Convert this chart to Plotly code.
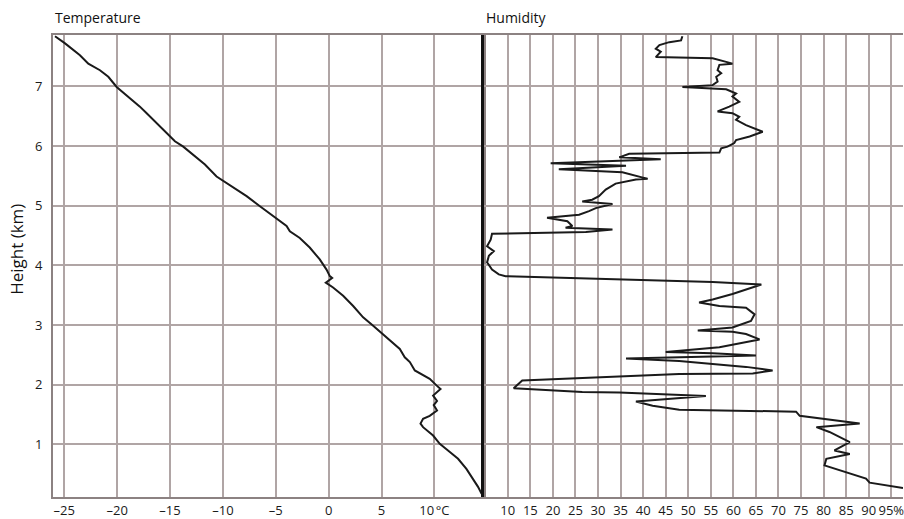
import plotly.graph_objects as go

# Temperature profile (°C vs km)
temp_c = [-25.88, -24.93, -23.52, -22.73, -21.63, -20.84, -20.05, -19.10, -17.85, -17.21,
          -16.27, -15.32, -14.54, -13.75, -12.81, -11.70, -10.60, -9.03, -7.76, -6.50,
          -5.25, -3.98, -3.67, -2.73, -1.79, -0.84, -0.20, 0.11, 0.33, -0.27,
          0.42, 1.37, 2.32, 3.26, 4.21, 5.15, 6.10, 6.73, 7.20, 7.68,
          8.15, 8.78, 9.56, 10.20, 10.58, 9.88, 10.25, 9.94, 10.25, 9.56,
          8.93, 8.69, 8.93, 9.88, 10.51, 11.29, 12.24, 13.03, 13.66, 14.13, 14.45, 14.70]
temp_h = [7.84, 7.72, 7.52, 7.38, 7.27, 7.16, 6.99, 6.85, 6.66, 6.55,
          6.38, 6.22, 6.08, 5.99, 5.85, 5.69, 5.49, 5.30, 5.16, 4.99,
          4.82, 4.66, 4.57, 4.46, 4.30, 4.10, 3.93, 3.82, 3.79, 3.71,
          3.63, 3.49, 3.32, 3.13, 2.99, 2.85, 2.71, 2.60, 2.46, 2.38,
          2.24, 2.18, 2.10, 1.99, 1.93, 1.82, 1.73, 1.66, 1.57, 1.48,
          1.43, 1.35, 1.29, 1.15, 1.01, 0.90, 0.76, 0.59, 0.43, 0.29, 0.18, 0.13]

# Humidity profile (% vs km)
hum_pct = [48.7, 48.4, 45.8, 43.6, 42.8, 43.9, 42.8, 55.4, 58.4, 59.8,
           56.9, 56.5, 57.3, 56.2, 56.5, 55.4, 48.7, 58.4, 60.6, 59.8,
           61.3, 59.1, 56.5, 59.8, 61.3, 60.6, 62.8, 66.5, 63.6, 60.6,
           60.2, 58.7, 57.3, 56.9, 36.9, 34.7, 43.9, 19.5, 36.2, 21.3,
           35.4, 37.6, 41.0, 38.4, 33.9, 31.7, 30.2, 28.7, 26.5, 33.2,
           29.5, 28.0, 25.8, 18.7, 21.3, 23.2, 24.3, 22.8, 33.2, 27.3,
           6.5, 6.2, 5.4, 6.9, 5.8, 5.4, 6.5, 8.0, 9.5, 55.4,
           66.2, 62.8, 59.8, 55.4, 52.4, 56.9, 62.8, 64.7, 63.9, 59.8,
           52.1, 59.8, 62.8, 65.8, 62.1, 56.9, 45.0, 55.4, 65.0, 36.2,
           48.0, 62.8, 68.7, 64.3, 48.0, 13.2, 11.3, 26.5, 34.7, 53.9,
           38.4, 42.1, 48.0, 73.9, 74.7, 88.0, 78.4, 81.3, 85.8, 82.4,
           85.8, 80.6, 80.2, 85.0, 89.4, 90.2, 97.6]
hum_h = [7.84, 7.77, 7.74, 7.69, 7.63, 7.58, 7.49, 7.47, 7.41, 7.38,
         7.36, 7.27, 7.22, 7.16, 7.08, 7.02, 6.99, 6.95, 6.88, 6.83,
         6.74, 6.66, 6.58, 6.55, 6.49, 6.44, 6.35, 6.24, 6.16, 6.10,
         6.05, 5.99, 5.96, 5.89, 5.87, 5.81, 5.78, 5.71, 5.67, 5.61,
         5.56, 5.52, 5.45, 5.44, 5.37, 5.27, 5.16, 5.10, 5.07, 5.03,
         4.96, 4.91, 4.85, 4.80, 4.77, 4.74, 4.66, 4.63, 4.60, 4.56,
         4.53, 4.43, 4.32, 4.24, 4.16, 4.05, 3.93, 3.85, 3.82, 3.72,
         3.68, 3.60, 3.52, 3.43, 3.38, 3.32, 3.29, 3.18, 3.07, 2.96,
         2.91, 2.89, 2.85, 2.76, 2.71, 2.63, 2.55, 2.53, 2.49, 2.44,
         2.40, 2.30, 2.24, 2.19, 2.18, 2.07, 1.94, 1.88, 1.87, 1.81,
         1.72, 1.65, 1.58, 1.55, 1.48, 1.35, 1.29, 1.21, 1.04, 0.90,
         0.84, 0.76, 0.65, 0.54, 0.43, 0.36, 0.27]

temp_ticks = [-25, -20, -15, -10, -5, 0, 5, 10]
temp_ticktext = ["\u201325", "\u201320", "\u201315", "\u201310", "\u20135", "0", "5", "10\u202f°C"]
hum_ticks = [10, 15, 20, 25, 30, 35, 40, 45, 50, 55, 60, 65, 70, 75, 80, 85, 90, 95]
hum_ticktext = [str(v) for v in hum_ticks[:-1]] + ["95%"]
height_ticks = [1, 2, 3, 4, 5, 6, 7]

GRID = "#b0a5a5"
BORDER = "#8c8282"
FONT = "Open Sans"
TICKFONT = dict(size=13, color="#1a1a1a", family=FONT)

fig = go.Figure()
fig.add_trace(go.Scatter(x=temp_c, y=temp_h, mode="lines",
                         line=dict(color="#1a1a1a", width=2), xaxis="x", yaxis="y",
                         showlegend=False, hoverinfo="skip"))
fig.add_trace(go.Scatter(x=hum_pct, y=hum_h, mode="lines",
                         line=dict(color="#1a1a1a", width=2), xaxis="x2", yaxis="y2",
                         showlegend=False, hoverinfo="skip"))

split = (485 - 53) / 851

fig.update_layout(
    width=904, height=519,
    margin=dict(l=53, r=0, t=35, b=20),
    paper_bgcolor="white", plot_bgcolor="white",
    font=dict(family=FONT, size=13, color="#1a1a1a"),
    xaxis=dict(domain=[0, split], range=[-26.07, 14.74], tickvals=temp_ticks,
               ticktext=temp_ticktext, showgrid=True, gridcolor=GRID, gridwidth=1.6,
               zeroline=False, showline=True, linecolor=BORDER, linewidth=2, mirror=True,
               ticks="", tickfont=TICKFONT, anchor="y", ticklabelstandoff=0),
    yaxis=dict(domain=[0, 1], range=[0.12, 7.86], tickvals=height_ticks,
               showgrid=True, gridcolor=GRID, gridwidth=1.6, zeroline=False,
               showline=True, linecolor=BORDER, linewidth=2, mirror=True,
               ticks="", ticklabelstandoff=6, tickfont=TICKFONT, anchor="x"),
    xaxis2=dict(domain=[split, 1], range=[4.83, 97.6], tickvals=hum_ticks,
                ticktext=hum_ticktext, showgrid=True, gridcolor=GRID, gridwidth=1.6,
                zeroline=False, showline=True, linecolor=BORDER, linewidth=2, mirror=True,
                ticks="", tickfont=TICKFONT, anchor="y2", ticklabeloverflow="allow",
                ticklabelstandoff=0),
    yaxis2=dict(domain=[0, 1], range=[0.12, 7.86], tickvals=height_ticks,
                showticklabels=False, showgrid=True, gridcolor=GRID, gridwidth=1.6,
                zeroline=False, showline=True, linecolor="#111", linewidth=3,
                mirror=False, ticks="", anchor="x2", side="left"),
    annotations=[
        dict(text="Temperature", xref="paper", yref="paper", x=0, y=1,
             xanchor="left", yanchor="bottom", yshift=6, showarrow=False,
             font=dict(size=14, color="#111", family=FONT)),
        dict(text="Humidity", xref="paper", yref="paper", x=split, y=1,
             xanchor="left", yanchor="bottom", yshift=6, showarrow=False,
             font=dict(size=14, color="#111", family=FONT)),
        dict(text="Height (km)", xref="paper", yref="paper", x=-36 / 851, y=0.535,
             xanchor="center", yanchor="middle", textangle=-90, showarrow=False,
             font=dict(size=17, color="#111", family=FONT)),
    ],
)

fig.write_html("out.html", config={"displayModeBar": False},
               post_script="document.body.style.margin='0';document.body.style.padding='0';")
